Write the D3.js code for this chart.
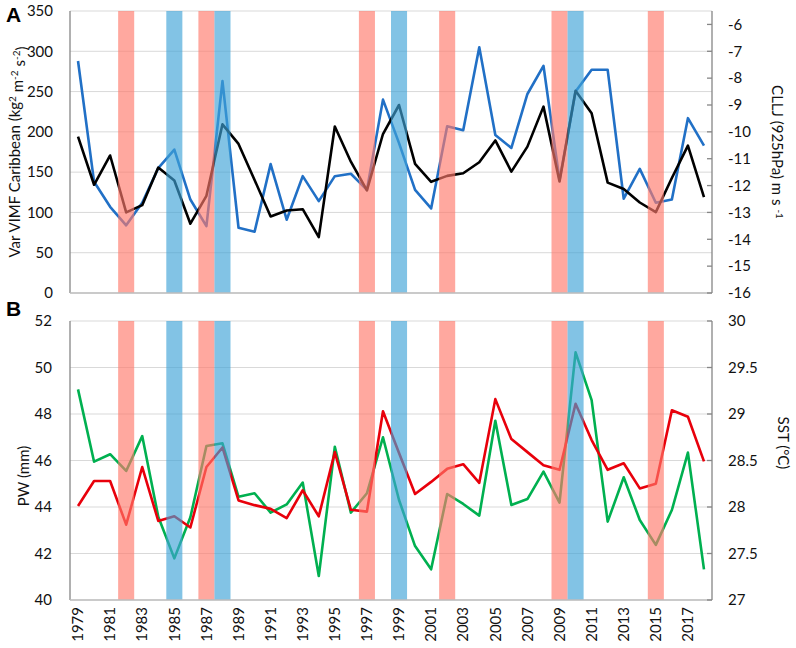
<!DOCTYPE html>
<html>
<head>
<meta charset="utf-8">
<script src="https://cdn.jsdelivr.net/npm/d3@7"></script>
<style>
  body { margin: 0; background: #fff; }
  svg { font-family: Lato, "Open Sans", sans-serif; }
  .tick-label { font-size: 15px; fill: #111; }
  .axis-title { font-size: 15px; fill: #111; }
  .panel-letter { font-family: "Liberation Sans", Arial, sans-serif; font-weight: bold; font-size: 21px; }
</style>
</head>
<body>
<svg id="chart" width="796" height="648"></svg>
<script>
// ---------- dane ----------
const years = [1979, 1980, 1981, 1982, 1983, 1984, 1985, 1986, 1987, 1988,
               1989, 1990, 1991, 1992, 1993, 1994, 1995, 1996, 1997, 1998,
               1999, 2000, 2001, 2002, 2003, 2004, 2005, 2006, 2007, 2008,
               2009, 2010, 2011, 2012, 2013, 2014, 2015, 2016, 2017, 2018];

const yearTicks = [1979, 1981, 1983, 1985, 1987, 1989, 1991, 1993, 1995, 1997,
                   1999, 2001, 2003, 2005, 2007, 2009, 2011, 2013, 2015, 2017];

// El Nino (czerwone) i La Nina (niebieskie) lata
const warmYears = [1982, 1987, 1997, 2002, 2009, 2015];
const coldYears = [1985, 1988, 1999, 2010];

// panel A
const vimf = [288, 138, 107, 84, 112, 155, 178, 116, 83, 263,
              81, 76, 160, 91, 145, 114, 145, 148, 128, 240,
              186, 128, 105, 207, 202, 305, 196, 180, 247, 282,
              140, 250, 277, 277, 117, 154, 112, 116, 217, 183];

const cllj = [-10.18, -11.97, -10.88, -13.0, -12.73, -11.33, -11.81, -13.42, -12.38, -9.72,
              -10.45, -11.79, -13.15, -12.93, -12.88, -13.92, -9.8, -11.11, -12.18, -10.08,
              -9.0, -11.19, -11.86, -11.64, -11.54, -11.13, -10.32, -11.48, -10.55, -9.06,
              -11.85, -8.47, -9.31, -11.89, -12.13, -12.63, -12.99, -11.72, -10.51, -12.43];

// panel B
const pw = [49.06, 45.95, 46.27, 45.55, 47.05, 43.58, 41.79, 43.56, 46.62, 46.74,
            44.44, 44.59, 43.76, 44.11, 45.05, 41.03, 46.59, 43.76, 44.59, 47.0,
            44.3, 42.32, 41.32, 44.56, 44.13, 43.63, 47.71, 44.09, 44.34, 45.52,
            44.19, 50.65, 48.6, 43.37, 45.28, 43.44, 42.37, 43.87, 46.34, 41.32];

const sst = [28.01, 28.28, 28.28, 27.81, 28.43, 27.85, 27.9, 27.78, 28.43, 28.64,
             28.07, 28.02, 27.98, 27.88, 28.18, 27.9, 28.59, 27.97, 27.95, 29.03,
             28.58, 28.14, 28.27, 28.41, 28.46, 28.26, 29.16, 28.73, 28.59, 28.45,
             28.4, 29.11, 28.72, 28.4, 28.47, 28.2, 28.25, 29.04, 28.97, 28.49];

// ---------- ustawienia ----------
const LEFT = 70, RIGHT = 712;
const svg = d3.select("#chart");

const x = d3.scaleBand()
  .domain(years)
  .range([LEFT, RIGHT])
  .paddingInner(0)
  .paddingOuter(0);

const cx = d => x(d) + x.bandwidth() / 2;

// rysowanie jednego panelu
function drawPanel(cfg) {
  const g = svg.append("g");

  const yL = d3.scaleLinear().domain(cfg.leftDomain).range([cfg.bottom, cfg.top]);
  const yR = d3.scaleLinear().domain(cfg.rightDomain).range([cfg.bottom, cfg.top]);

  // siatka
  g.append("g")
    .selectAll("line")
    .data(cfg.leftTicks)
    .enter()
    .append("line")
    .attr("x1", LEFT).attr("x2", RIGHT)
    .attr("y1", d => yL(d)).attr("y2", d => yL(d))
    .attr("stroke", "#d9d9d9")
    .attr("stroke-width", 1);

  // linie serii
  const line1 = d3.line().x((d, i) => cx(years[i])).y(d => yL(d));
  const line2 = d3.line().x((d, i) => cx(years[i])).y(d => yR(d));

  g.append("path")
    .datum(cfg.leftSeries)
    .attr("d", line1)
    .attr("fill", "none")
    .attr("stroke", cfg.leftColor)
    .attr("stroke-width", 2.6)
    .attr("stroke-linejoin", "round");

  g.append("path")
    .datum(cfg.rightSeries)
    .attr("d", line2)
    .attr("fill", "none")
    .attr("stroke", cfg.rightColor)
    .attr("stroke-width", 2.6)
    .attr("stroke-linejoin", "round");

  // pasy ENSO (nad liniami, półprzezroczyste)
  g.append("g")
    .selectAll("rect")
    .data(warmYears)
    .enter()
    .append("rect")
    .attr("x", d => x(d))
    .attr("width", x.bandwidth())
    .attr("y", cfg.top)
    .attr("height", cfg.bottom - cfg.top)
    .attr("fill", "#ff7a6b")
    .attr("opacity", 0.65);

  g.append("g")
    .selectAll("rect")
    .data(coldYears)
    .enter()
    .append("rect")
    .attr("x", d => x(d))
    .attr("width", x.bandwidth())
    .attr("y", cfg.top)
    .attr("height", cfg.bottom - cfg.top)
    .attr("fill", "#3fa3d7")
    .attr("opacity", 0.65);

  // osie
  g.append("line")
    .attr("x1", LEFT).attr("x2", LEFT)
    .attr("y1", cfg.top).attr("y2", cfg.bottom)
    .attr("stroke", "#868686").attr("stroke-width", 1.3);

  g.append("line")
    .attr("x1", LEFT).attr("x2", RIGHT)
    .attr("y1", cfg.bottom).attr("y2", cfg.bottom)
    .attr("stroke", "#bfbfbf").attr("stroke-width", 1.3);

  g.append("line")
    .attr("x1", RIGHT).attr("x2", RIGHT)
    .attr("y1", cfg.top).attr("y2", cfg.bottom)
    .attr("stroke", "#868686").attr("stroke-width", 1.3);

  // etykiety osi lewej
  g.append("g")
    .selectAll("text")
    .data(cfg.leftTicks)
    .enter()
    .append("text")
    .attr("class", "tick-label")
    .attr("x", cfg.leftLabelX)
    .attr("y", d => yL(d))
    .attr("dy", "0.35em")
    .attr("text-anchor", "end")
    .text(d => d);

  // prawa oś: kreski do środka + etykiety
  g.append("g")
    .selectAll("line")
    .data(cfg.rightTicks)
    .enter()
    .append("line")
    .attr("x1", RIGHT - 5).attr("x2", RIGHT)
    .attr("y1", d => yR(d)).attr("y2", d => yR(d))
    .attr("stroke", "#868686").attr("stroke-width", 1.3);

  g.append("g")
    .selectAll("text")
    .data(cfg.rightTicks)
    .enter()
    .append("text")
    .attr("class", "tick-label")
    .attr("x", 728)
    .attr("y", d => yR(d))
    .attr("dy", "0.35em")
    .attr("text-anchor", "start")
    .text(cfg.rightFormat);

  // tytuły osi
  const lt = g.append("text")
    .attr("class", "axis-title")
    .attr("text-anchor", "middle")
    .attr("transform", `translate(${cfg.leftTitleX},${cfg.leftTitleY}) rotate(-90)`)
    .attr("dy", "0.35em");
  cfg.leftTitle(lt);

  const rt = g.append("text")
    .attr("class", "axis-title")
    .attr("text-anchor", "middle")
    .attr("transform", `translate(${cfg.rightTitleX},${cfg.rightTitleY}) rotate(90)`)
    .attr("dy", "0.35em");
  cfg.rightTitle(rt);

  // litera panelu
  g.append("text")
    .attr("class", "panel-letter")
    .attr("x", 6)
    .attr("y", cfg.letterY)
    .text(cfg.letter);
}

function sup(sel, base, s) {
  sel.append("tspan").text(base);
  sel.append("tspan").attr("dy", "-0.45em").attr("font-size", "10px").text(s);
  sel.append("tspan").attr("dy", "0.45em").text("");
}

drawPanel({
  top: 11, bottom: 293,
  leftDomain: [0, 350], leftTicks: [0, 50, 100, 150, 200, 250, 300, 350],
  rightDomain: [-16, -5.5], rightTicks: [-16, -15, -14, -13, -12, -11, -10, -9, -8, -7, -6],
  rightFormat: d => d,
  leftSeries: vimf, leftColor: "#2170c6",
  rightSeries: cllj, rightColor: "#000000",
  leftLabelX: 53,
  leftTitleX: 15, leftTitleY: 152,
  leftTitle: t => {
    t.append("tspan").text("Var VIMF Caribbean (kg");
    t.append("tspan").attr("dy", "-0.45em").attr("font-size", "10px").text("2");
    t.append("tspan").attr("dy", "0.45em").text(" m");
    t.append("tspan").attr("dy", "-0.45em").attr("font-size", "10px").text("-2");
    t.append("tspan").attr("dy", "0.45em").text(" s");
    t.append("tspan").attr("dy", "-0.45em").attr("font-size", "10px").text("-2");
    t.append("tspan").attr("dy", "0.45em").text(")");
  },
  rightTitleX: 777, rightTitleY: 152,
  rightTitle: t => {
    t.append("tspan").text("CLLJ (925hPa) m s ");
    t.append("tspan").attr("dy", "-0.45em").attr("font-size", "10px").text("-1");
  },
  letter: "A", letterY: 22
});

drawPanel({
  top: 321, bottom: 600,
  leftDomain: [40, 52], leftTicks: [40, 42, 44, 46, 48, 50, 52],
  rightDomain: [27, 30], rightTicks: [27, 27.5, 28, 28.5, 29, 29.5, 30],
  rightFormat: d => d,
  leftSeries: pw, leftColor: "#00b050",
  rightSeries: sst, rightColor: "#e8000b",
  leftLabelX: 52,
  leftTitleX: 24, leftTitleY: 476,
  leftTitle: t => t.text("PW (mm)"),
  rightTitleX: 783, rightTitleY: 443,
  rightTitle: t => t.text("SST (°C)"),
  letter: "B", letterY: 316
});

// etykiety lat (pionowe)
svg.append("g")
  .selectAll("text")
  .data(yearTicks)
  .enter()
  .append("text")
  .attr("class", "tick-label")
  .attr("text-anchor", "end")
  .attr("dy", "0.35em")
  .attr("transform", d => `translate(${cx(d)},607) rotate(-90)`)
  .text(d => d);
</script>
</body>
</html>
